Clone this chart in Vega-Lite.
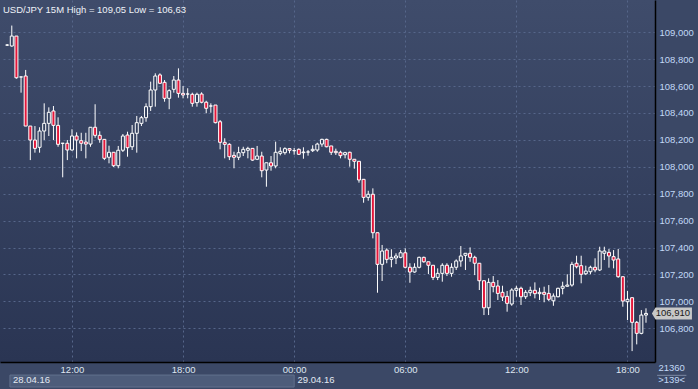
{
"$schema":"https://vega.github.io/schema/vega-lite/v6.json",
"width":655,"height":362,
"autosize":{"type":"none"},
"padding":{"left":0,"top":0,"right":43,"bottom":27},
"background":"#3b4866",
"title":{"text":"USD/JPY 15M High = 109,05 Low = 106,63","anchor":"start","frame":"group","offset":-14,"dx":3,"font":"Liberation Sans","fontSize":9.5,"fontWeight":"normal","color":"#eef2f8"},
"config":{"view":{"stroke":null,"fill":{"gradient":"linear","x1":0,"y1":0,"x2":0,"y2":1,"stops":[{"offset":0,"color":"#3f4c6b"},{"offset":1,"color":"#2a3553"}]}},
"axis":{"labelFont":"Liberation Sans","labelFontSize":9.5,"labelOverlap":false,"labelFlush":false,"ticks":false,"title":null,"grid":true,"gridColor":"#56668a","gridDash":[2,3],"gridWidth":1,"domain":true,"domainColor":"#000000","domainWidth":1.5},
"axisY":{"labelAlign":"left","labelBaseline":"middle","labelPadding":4,"labelColor":"#c2d8f6","labelBound":false},
"axisX":{"labelPadding":2,"labelColor":"#dfe6f0"}},
"data":{"values":[
{"t":"2016-04-28 08:30","o":108.905,"h":108.913,"l":108.898,"c":108.905},
{"t":"2016-04-28 08:45","o":108.898,"h":109.05,"l":108.893,"c":108.972},
{"t":"2016-04-28 09:00","o":108.972,"h":108.972,"l":108.655,"c":108.662},
{"t":"2016-04-28 09:15","o":108.668,"h":108.670,"l":108.551,"c":108.668},
{"t":"2016-04-28 09:30","o":108.675,"h":108.720,"l":108.303,"c":108.303},
{"t":"2016-04-28 09:45","o":108.303,"h":108.303,"l":108.050,"c":108.199},
{"t":"2016-04-28 10:00","o":108.199,"h":108.303,"l":108.105,"c":108.137},
{"t":"2016-04-28 10:15","o":108.145,"h":108.294,"l":108.105,"c":108.266},
{"t":"2016-04-28 10:30","o":108.266,"h":108.472,"l":108.199,"c":108.323},
{"t":"2016-04-28 10:45","o":108.323,"h":108.442,"l":108.229,"c":108.405},
{"t":"2016-04-28 11:00","o":108.415,"h":108.452,"l":108.199,"c":108.308},
{"t":"2016-04-28 11:15","o":108.308,"h":108.368,"l":108.149,"c":108.167},
{"t":"2016-04-28 11:30","o":108.175,"h":108.177,"l":107.922,"c":108.175},
{"t":"2016-04-28 11:45","o":108.175,"h":108.199,"l":108.050,"c":108.125},
{"t":"2016-04-28 12:00","o":108.125,"h":108.279,"l":108.120,"c":108.229},
{"t":"2016-04-28 12:15","o":108.229,"h":108.256,"l":108.063,"c":108.199},
{"t":"2016-04-28 12:30","o":108.194,"h":108.253,"l":108.117,"c":108.175},
{"t":"2016-04-28 12:45","o":108.184,"h":108.253,"l":108.063,"c":108.169},
{"t":"2016-04-28 13:00","o":108.169,"h":108.294,"l":108.149,"c":108.294},
{"t":"2016-04-28 13:15","o":108.294,"h":108.465,"l":108.216,"c":108.234},
{"t":"2016-04-28 13:30","o":108.234,"h":108.264,"l":108.179,"c":108.204},
{"t":"2016-04-28 13:45","o":108.204,"h":108.204,"l":108.050,"c":108.063},
{"t":"2016-04-28 14:00","o":108.071,"h":108.157,"l":108.026,"c":108.108},
{"t":"2016-04-28 14:15","o":108.108,"h":108.108,"l":107.998,"c":108.008},
{"t":"2016-04-28 14:30","o":108.008,"h":108.155,"l":107.989,"c":108.123},
{"t":"2016-04-28 14:45","o":108.123,"h":108.244,"l":108.110,"c":108.229},
{"t":"2016-04-28 15:00","o":108.236,"h":108.261,"l":108.075,"c":108.142},
{"t":"2016-04-28 15:15","o":108.149,"h":108.311,"l":108.125,"c":108.249},
{"t":"2016-04-28 15:30","o":108.249,"h":108.378,"l":108.105,"c":108.328},
{"t":"2016-04-28 15:45","o":108.323,"h":108.378,"l":108.303,"c":108.365},
{"t":"2016-04-28 16:00","o":108.365,"h":108.472,"l":108.335,"c":108.447},
{"t":"2016-04-28 16:15","o":108.447,"h":108.633,"l":108.415,"c":108.571},
{"t":"2016-04-28 16:30","o":108.571,"h":108.695,"l":108.447,"c":108.675},
{"t":"2016-04-28 16:45","o":108.683,"h":108.695,"l":108.616,"c":108.621},
{"t":"2016-04-28 17:00","o":108.628,"h":108.645,"l":108.484,"c":108.509},
{"t":"2016-04-28 17:15","o":108.509,"h":108.576,"l":108.428,"c":108.566},
{"t":"2016-04-28 17:30","o":108.576,"h":108.675,"l":108.551,"c":108.645},
{"t":"2016-04-28 17:45","o":108.645,"h":108.732,"l":108.514,"c":108.546},
{"t":"2016-04-28 18:00","o":108.546,"h":108.601,"l":108.509,"c":108.534},
{"t":"2016-04-28 18:15","o":108.541,"h":108.584,"l":108.509,"c":108.541},
{"t":"2016-04-28 18:30","o":108.539,"h":108.551,"l":108.447,"c":108.472},
{"t":"2016-04-28 18:45","o":108.477,"h":108.551,"l":108.447,"c":108.539},
{"t":"2016-04-28 19:00","o":108.541,"h":108.554,"l":108.472,"c":108.480},
{"t":"2016-04-28 19:15","o":108.480,"h":108.491,"l":108.398,"c":108.435},
{"t":"2016-04-28 19:30","o":108.452,"h":108.472,"l":108.402,"c":108.452},
{"t":"2016-04-28 19:45","o":108.459,"h":108.459,"l":108.323,"c":108.328},
{"t":"2016-04-28 20:00","o":108.335,"h":108.348,"l":108.130,"c":108.182},
{"t":"2016-04-28 20:15","o":108.182,"h":108.212,"l":108.063,"c":108.167},
{"t":"2016-04-28 20:30","o":108.167,"h":108.175,"l":108.050,"c":108.075},
{"t":"2016-04-28 20:45","o":108.085,"h":108.112,"l":107.989,"c":108.071},
{"t":"2016-04-28 21:00","o":108.071,"h":108.149,"l":108.050,"c":108.105},
{"t":"2016-04-28 21:15","o":108.105,"h":108.149,"l":108.080,"c":108.130},
{"t":"2016-04-28 21:30","o":108.123,"h":108.149,"l":108.063,"c":108.137},
{"t":"2016-04-28 21:45","o":108.137,"h":108.137,"l":108.045,"c":108.050},
{"t":"2016-04-28 22:00","o":108.056,"h":108.155,"l":108.050,"c":108.080},
{"t":"2016-04-28 22:15","o":108.080,"h":108.112,"l":107.922,"c":107.971},
{"t":"2016-04-28 22:30","o":107.976,"h":108.030,"l":107.852,"c":108.030},
{"t":"2016-04-28 22:45","o":108.030,"h":108.080,"l":107.971,"c":108.006},
{"t":"2016-04-28 23:00","o":108.006,"h":108.187,"l":107.989,"c":108.108},
{"t":"2016-04-28 23:15","o":108.100,"h":108.145,"l":108.085,"c":108.115},
{"t":"2016-04-28 23:30","o":108.105,"h":108.145,"l":108.090,"c":108.135},
{"t":"2016-04-28 23:45","o":108.135,"h":108.140,"l":108.100,"c":108.123},
{"t":"2016-04-29 00:00","o":108.120,"h":108.140,"l":108.090,"c":108.120},
{"t":"2016-04-29 00:15","o":108.130,"h":108.137,"l":108.088,"c":108.093},
{"t":"2016-04-29 00:30","o":108.105,"h":108.145,"l":108.060,"c":108.110},
{"t":"2016-04-29 00:45","o":108.110,"h":108.125,"l":108.083,"c":108.110},
{"t":"2016-04-29 01:00","o":108.120,"h":108.160,"l":108.110,"c":108.130},
{"t":"2016-04-29 01:15","o":108.125,"h":108.179,"l":108.112,"c":108.169},
{"t":"2016-04-29 01:30","o":108.169,"h":108.209,"l":108.149,"c":108.204},
{"t":"2016-04-29 01:45","o":108.204,"h":108.209,"l":108.145,"c":108.149},
{"t":"2016-04-29 02:00","o":108.155,"h":108.155,"l":108.088,"c":108.108},
{"t":"2016-04-29 02:15","o":108.115,"h":108.135,"l":108.088,"c":108.105},
{"t":"2016-04-29 02:30","o":108.108,"h":108.120,"l":108.063,"c":108.083},
{"t":"2016-04-29 02:45","o":108.090,"h":108.112,"l":108.063,"c":108.105},
{"t":"2016-04-29 03:00","o":108.108,"h":108.112,"l":108.001,"c":108.056},
{"t":"2016-04-29 03:15","o":108.056,"h":108.056,"l":107.986,"c":108.041},
{"t":"2016-04-29 03:30","o":108.041,"h":108.041,"l":107.882,"c":107.902},
{"t":"2016-04-29 03:45","o":107.907,"h":107.907,"l":107.733,"c":107.773},
{"t":"2016-04-29 04:00","o":107.773,"h":107.822,"l":107.748,"c":107.796},
{"t":"2016-04-29 04:15","o":107.796,"h":107.840,"l":107.468,"c":107.510},
{"t":"2016-04-29 04:30","o":107.510,"h":107.510,"l":107.064,"c":107.275},
{"t":"2016-04-29 04:45","o":107.275,"h":107.419,"l":107.151,"c":107.374},
{"t":"2016-04-29 05:00","o":107.381,"h":107.394,"l":107.283,"c":107.312},
{"t":"2016-04-29 05:15","o":107.312,"h":107.387,"l":107.253,"c":107.327},
{"t":"2016-04-29 05:30","o":107.322,"h":107.357,"l":107.277,"c":107.337},
{"t":"2016-04-29 05:45","o":107.327,"h":107.381,"l":107.320,"c":107.361},
{"t":"2016-04-29 06:00","o":107.361,"h":107.394,"l":107.245,"c":107.253},
{"t":"2016-04-29 06:15","o":107.253,"h":107.283,"l":107.138,"c":107.218},
{"t":"2016-04-29 06:30","o":107.218,"h":107.283,"l":107.213,"c":107.253},
{"t":"2016-04-29 06:45","o":107.253,"h":107.332,"l":107.245,"c":107.327},
{"t":"2016-04-29 07:00","o":107.327,"h":107.332,"l":107.287,"c":107.294},
{"t":"2016-04-29 07:15","o":107.294,"h":107.294,"l":107.203,"c":107.268},
{"t":"2016-04-29 07:30","o":107.268,"h":107.268,"l":107.158,"c":107.178},
{"t":"2016-04-29 07:45","o":107.178,"h":107.245,"l":107.158,"c":107.208},
{"t":"2016-04-29 08:00","o":107.208,"h":107.283,"l":107.146,"c":107.268},
{"t":"2016-04-29 08:15","o":107.268,"h":107.283,"l":107.188,"c":107.208},
{"t":"2016-04-29 08:30","o":107.208,"h":107.283,"l":107.183,"c":107.253},
{"t":"2016-04-29 08:45","o":107.253,"h":107.312,"l":107.233,"c":107.300},
{"t":"2016-04-29 09:00","o":107.300,"h":107.411,"l":107.257,"c":107.337},
{"t":"2016-04-29 09:15","o":107.342,"h":107.357,"l":107.233,"c":107.357},
{"t":"2016-04-29 09:30","o":107.357,"h":107.401,"l":107.294,"c":107.327},
{"t":"2016-04-29 09:45","o":107.327,"h":107.339,"l":107.195,"c":107.283},
{"t":"2016-04-29 10:00","o":107.283,"h":107.283,"l":107.084,"c":107.153},
{"t":"2016-04-29 10:15","o":107.153,"h":107.153,"l":106.898,"c":106.952},
{"t":"2016-04-29 10:30","o":106.952,"h":107.171,"l":106.898,"c":107.141},
{"t":"2016-04-29 10:45","o":107.141,"h":107.188,"l":107.067,"c":107.109},
{"t":"2016-04-29 11:00","o":107.114,"h":107.158,"l":107.010,"c":107.059},
{"t":"2016-04-29 11:15","o":107.067,"h":107.116,"l":107.002,"c":107.032},
{"t":"2016-04-29 11:30","o":107.037,"h":107.077,"l":106.923,"c":106.985},
{"t":"2016-04-29 11:45","o":106.980,"h":107.097,"l":106.967,"c":107.084},
{"t":"2016-04-29 12:00","o":107.082,"h":107.116,"l":107.034,"c":107.097},
{"t":"2016-04-29 12:15","o":107.097,"h":107.109,"l":106.973,"c":107.034},
{"t":"2016-04-29 12:30","o":107.034,"h":107.084,"l":107.017,"c":107.067},
{"t":"2016-04-29 12:45","o":107.064,"h":107.109,"l":107.039,"c":107.082},
{"t":"2016-04-29 13:00","o":107.082,"h":107.141,"l":107.022,"c":107.057},
{"t":"2016-04-29 13:15","o":107.057,"h":107.101,"l":107.010,"c":107.067},
{"t":"2016-04-29 13:30","o":107.067,"h":107.109,"l":106.993,"c":107.052},
{"t":"2016-04-29 13:45","o":107.059,"h":107.121,"l":107.002,"c":107.015},
{"t":"2016-04-29 14:00","o":107.004,"h":107.059,"l":106.967,"c":107.039},
{"t":"2016-04-29 14:15","o":107.034,"h":107.101,"l":107.030,"c":107.097},
{"t":"2016-04-29 14:30","o":107.097,"h":107.146,"l":107.052,"c":107.112},
{"t":"2016-04-29 14:45","o":107.112,"h":107.201,"l":107.109,"c":107.121},
{"t":"2016-04-29 15:00","o":107.121,"h":107.294,"l":107.109,"c":107.275},
{"t":"2016-04-29 15:15","o":107.283,"h":107.339,"l":107.245,"c":107.257},
{"t":"2016-04-29 15:30","o":107.265,"h":107.339,"l":107.134,"c":107.201},
{"t":"2016-04-29 15:45","o":107.205,"h":107.265,"l":107.195,"c":107.225},
{"t":"2016-04-29 16:00","o":107.220,"h":107.265,"l":107.201,"c":107.253},
{"t":"2016-04-29 16:15","o":107.253,"h":107.320,"l":107.216,"c":107.233},
{"t":"2016-04-29 16:30","o":107.233,"h":107.406,"l":107.225,"c":107.374},
{"t":"2016-04-29 16:45","o":107.357,"h":107.406,"l":107.307,"c":107.374},
{"t":"2016-04-29 17:00","o":107.364,"h":107.389,"l":107.250,"c":107.337},
{"t":"2016-04-29 17:15","o":107.332,"h":107.381,"l":107.245,"c":107.307},
{"t":"2016-04-29 17:30","o":107.315,"h":107.389,"l":107.175,"c":107.183},
{"t":"2016-04-29 17:45","o":107.183,"h":107.183,"l":106.960,"c":107.002},
{"t":"2016-04-29 18:00","o":106.997,"h":107.077,"l":106.861,"c":107.015},
{"t":"2016-04-29 18:15","o":107.027,"h":107.027,"l":106.630,"c":106.844},
{"t":"2016-04-29 18:30","o":106.844,"h":106.854,"l":106.680,"c":106.762},
{"t":"2016-04-29 18:45","o":106.762,"h":106.935,"l":106.755,"c":106.898},
{"t":"2016-04-29 19:00","o":106.898,"h":106.948,"l":106.841,"c":106.910}
],"format":{"parse":{"t":"date:'%Y-%m-%d %H:%M'"}}},
"encoding":{
  "x":{"field":"t","type":"temporal",
   "scale":{"domain":[{"year":2016,"month":4,"date":28,"hours":8,"minutes":23},{"year":2016,"month":4,"date":29,"hours":19,"minutes":13}]},
   "axis":{"orient":"bottom","format":"%H:%M",
    "values":[{"year":2016,"month":4,"date":28,"hours":12},{"year":2016,"month":4,"date":28,"hours":18},{"year":2016,"month":4,"date":29,"hours":0},{"year":2016,"month":4,"date":29,"hours":6},{"year":2016,"month":4,"date":29,"hours":12},{"year":2016,"month":4,"date":29,"hours":18}]}},
  "y":{"type":"quantitative",
   "scale":{"domain":[106.549,109.24],"nice":false,"zero":false},
   "axis":{"orient":"right",
    "values":[106.8,107.0,107.2,107.4,107.6,107.8,108.0,108.2,108.4,108.6,108.8,109.0],
    "labelExpr":"replace(format(datum.value,'.3f'),'.',',')"}}
},
"layer":[
{"mark":{"type":"rule","color":"#ffffff","strokeWidth":1},
 "encoding":{"y":{"field":"l","type":"quantitative"},"y2":{"field":"h"}}},
{"mark":{"type":"bar","width":3,"stroke":"#ffffff","strokeWidth":1},
 "encoding":{
  "y":{"field":"o","type":"quantitative"},
  "y2":{"field":"c"},
  "fill":{"condition":{"test":"datum.o > datum.c","value":"#e3173a"},"value":"#33405e"}}},
{"data":{"values":[{"t":"2016-04-29 20:24","p":106.91,"label":"106,910"}],"format":{"parse":{"t":"date:'%Y-%m-%d %H:%M'"}}},
 "layer":[
  {"mark":{"type":"point","shape":"M -1 0 L -0.82 -0.3 L 1 -0.3 L 1 0.3 L -0.82 0.3 Z","size":1600,"filled":true,"color":"#c8c8c8","opacity":1},
   "encoding":{"y":{"field":"p","type":"quantitative"}}},
  {"mark":{"type":"text","font":"Liberation Sans","fontSize":9.5,"color":"#1a1a1a","align":"center","baseline":"middle","dx":1},
   "encoding":{"y":{"field":"p","type":"quantitative"},"text":{"field":"label"}}}
 ]},
{"data":{"values":[
  {"t":"2016-04-28 08:39","t2":"2016-04-29 00:00","p":106.452,"p2":106.363}
 ],"format":{"parse":{"t":"date:'%Y-%m-%d %H:%M'","t2":"date:'%Y-%m-%d %H:%M'"}}},
 "mark":{"type":"rect","fill":"#4d5c7a","stroke":"#62718d","strokeWidth":1},
 "encoding":{"x2":{"field":"t2"},"y":{"field":"p","type":"quantitative"},"y2":{"field":"p2"}}},
{"data":{"values":[
  {"t":"2016-04-28 08:49","p":106.418,"label":"28.04.16"},
  {"t":"2016-04-29 00:11","p":106.418,"label":"29.04.16"}
 ],"format":{"parse":{"t":"date:'%Y-%m-%d %H:%M'"}}},
 "mark":{"type":"text","font":"Liberation Sans","fontSize":9.5,"color":"#e2e8f2","align":"left","baseline":"middle"},
 "encoding":{"y":{"field":"p","type":"quantitative"},"text":{"field":"label"}}},
{"data":{"values":[
  {"t":"2016-04-29 19:36","t2":"2016-04-29 21:11","p":106.450}
 ],"format":{"parse":{"t":"date:'%Y-%m-%d %H:%M'","t2":"date:'%Y-%m-%d %H:%M'"}}},
 "mark":{"type":"rule","color":"#7c8aa4","strokeWidth":1},
 "encoding":{"x2":{"field":"t2"},"y":{"field":"p","type":"quantitative"}}},
{"data":{"values":[
  {"t":"2016-04-29 20:23","p":106.502,"label":"21360"}
 ],"format":{"parse":{"t":"date:'%Y-%m-%d %H:%M'"}}},
 "mark":{"type":"text","font":"Liberation Sans","fontSize":9.5,"color":"#c2d8f6","align":"center","baseline":"middle"},
 "encoding":{"y":{"field":"p","type":"quantitative"},"text":{"field":"label"}}},
{"data":{"values":[
  {"t":"2016-04-29 20:23","p":106.415,"label":">139<"}
 ],"format":{"parse":{"t":"date:'%Y-%m-%d %H:%M'"}}},
 "mark":{"type":"text","font":"Liberation Sans","fontSize":9.5,"color":"#c2d8f6","align":"center","baseline":"middle"},
 "encoding":{"y":{"field":"p","type":"quantitative"},"text":{"field":"label"}}}
]
}
